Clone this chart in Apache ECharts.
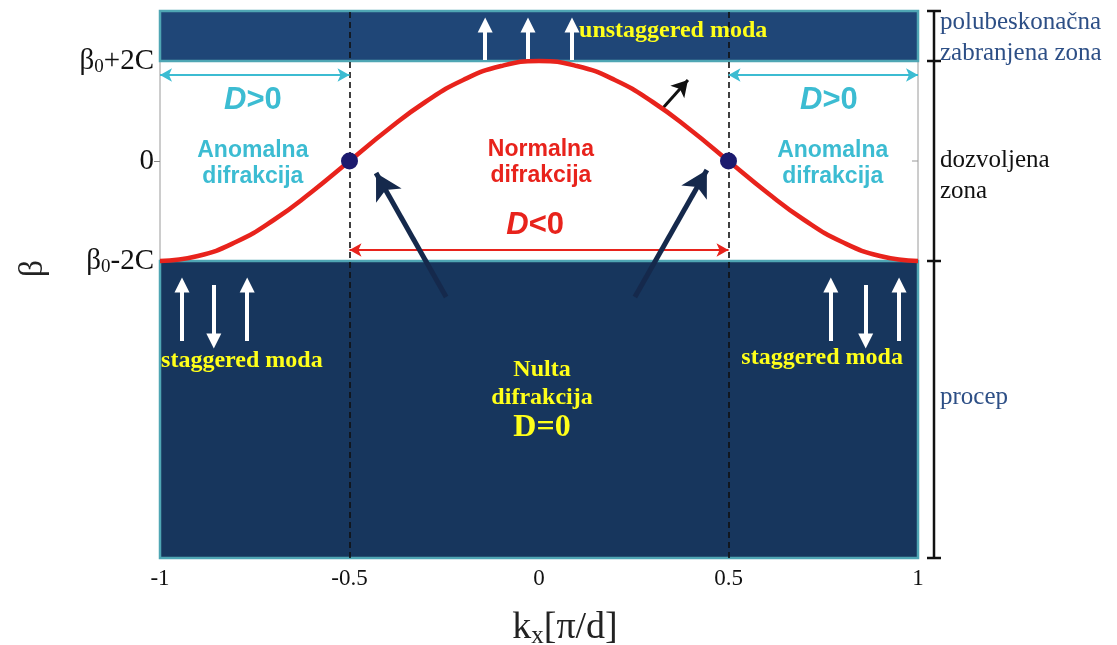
<!DOCTYPE html>
<html>
<head>
<meta charset="utf-8">
<script src="https://cdn.jsdelivr.net/npm/echarts@6/dist/echarts.min.js"></script>
<style>
html,body{margin:0;padding:0;background:#fff;}
#chart{width:1117px;height:645px;}
</style>
</head>
<body>
<div id="chart"></div>
<script>
// ---------- data ----------
const xTicks = [-1, -0.5, 0, 0.5, 1];
const yTickValues = [2, 0, -2];
const yTickLabels = ['{b|β}{s|0}{b|+2C}', '{b|0}', '{b|β}{s|0}{b|-2C}'];
const kx = [-1, -0.9, -0.8, -0.7, -0.6, -0.5, -0.4, -0.3, -0.2, -0.1, 0, 0.1, 0.2, 0.3, 0.4, 0.5, 0.6, 0.7, 0.8, 0.9, 1];
const beta = [-2, -1.9, -1.62, -1.18, -0.62, 0, 0.62, 1.18, 1.62, 1.9, 2, 1.9, 1.62, 1.18, 0.62, 0, -0.62, -1.18, -1.62, -1.9, -2];
const bandTop = [2, 3];          // polubeskonačna zabranjena zona
const bandBottom = [-7.94, -2];  // procep
const zeroPoints = [[-0.5, 0], [0.5, 0]];
const boundaryKx = [-0.5, 0.5];

// ---------- annotations ----------
const whiteArrowsUp = [
  [[-0.142, 2.02], [-0.142, 2.72]], [[-0.029, 2.02], [-0.029, 2.72]], [[0.087, 2.02], [0.087, 2.72]],
  [[-0.942, -3.6], [-0.942, -2.48]], [[-0.770, -3.6], [-0.770, -2.48]],
  [[0.770, -3.6], [0.770, -2.48]], [[0.950, -3.6], [0.950, -2.48]]
];
const whiteArrowsDown = [
  [[-0.858, -2.48], [-0.858, -3.6]], [[0.862, -2.48], [0.862, -3.6]]
];
const navyArrows = [
  [[-0.245, -2.72], [-0.43, -0.24]],
  [[0.253, -2.72], [0.443, -0.18]]
];
const blackArrow = [[[0.327, 1.06], [0.393, 1.62]]];
const cyanArrows = [[[-1, 1.72], [-0.5, 1.72]], [[0.5, 1.72], [1, 1.72]]];
const redArrow = [[[-0.5, -1.78], [0.5, -1.78]]];

const texts = [
  {t: '{i|D}{n|>0}', p: [-0.755, 1.22], s: 'cyanBig'},
  {t: '{i|D}{n|>0}', p: [0.765, 1.22], s: 'cyanBig'},
  {t: 'Anomalna\ndifrakcija', p: [-0.755, -0.06], s: 'cyan'},
  {t: 'Anomalna\ndifrakcija', p: [0.775, -0.06], s: 'cyan'},
  {t: 'Normalna\ndifrakcija', p: [0.005, -0.04], s: 'red'},
  {t: '{i|D}{n|<0}', p: [-0.01, -1.28], s: 'redBig'},
  {t: 'unstaggered moda', p: [0.354, 2.6], s: 'yellow'},
  {t: 'staggered moda', p: [-0.784, -4.0], s: 'yellow'},
  {t: 'staggered moda', p: [0.747, -3.94], s: 'yellow'},
  {t: 'Nulta\ndifrakcija', p: [0.008, -4.46], s: 'yellow'},
  {t: 'D=0', p: [0.008, -5.34], s: 'yellowBig'}
];

// ---------- styles ----------
const SERIF = '"Liberation Serif","Times New Roman",serif';
const SANS = '"Liberation Sans",Arial,sans-serif';
const textStyles = {
  cyanBig: {color: '#3cbcd2', fontFamily: SANS, fontWeight: 'bold', fontSize: 31,
            rich: {i: {color: '#3cbcd2', fontFamily: SANS, fontWeight: 'bold', fontStyle: 'italic', fontSize: 31},
                   n: {color: '#3cbcd2', fontFamily: SANS, fontWeight: 'bold', fontSize: 31}}},
  redBig: {color: '#e8231c', fontFamily: SANS, fontWeight: 'bold', fontSize: 31,
           rich: {i: {color: '#e8231c', fontFamily: SANS, fontWeight: 'bold', fontStyle: 'italic', fontSize: 31},
                  n: {color: '#e8231c', fontFamily: SANS, fontWeight: 'bold', fontSize: 31}}},
  cyan: {color: '#3cbcd2', fontFamily: SANS, fontWeight: 'bold', fontSize: 23, lineHeight: 26},
  red: {color: '#e8231c', fontFamily: SANS, fontWeight: 'bold', fontSize: 23, lineHeight: 26},
  yellow: {color: '#ffff1a', fontFamily: SERIF, fontWeight: 'bold', fontSize: 24, lineHeight: 28},
  yellowBig: {color: '#ffff1a', fontFamily: SERIF, fontWeight: 'bold', fontSize: 32}
};

function arrowData(list) {
  return list.map(a => [{coord: a[0]}, {coord: a[1]}]);
}

const chart = echarts.init(document.getElementById('chart'), null, {renderer: 'canvas'});

const option = {
  animation: false,
  backgroundColor: '#ffffff',
  grid: {left: 160, right: 199, top: 11, bottom: 87, containLabel: false, outerBoundsMode: 'none',
         show: true, borderColor: '#9a9a9a', borderWidth: 1, backgroundColor: '#ffffff'},
  xAxis: {
    type: 'value', min: -1, max: 1, interval: 0.5,
    splitLine: {show: false}, axisTick: {show: false},
    axisLine: {show: false, onZero: false},
    axisLabel: {show: true, fontFamily: SERIF, fontSize: 23, color: '#111', margin: 9,
                customValues: xTicks, formatter: v => String(v)},
    name: '{k|k}{x|x}{k|[π/d]}', nameLocation: 'middle', nameGap: 50,
    nameTextStyle: {padding: [0, 0, 0, 52],
      rich: {k: {fontFamily: SERIF, fontSize: 38, color: '#222'},
             x: {fontFamily: SERIF, fontSize: 25, color: '#222', verticalAlign: 'bottom', padding: [16, 0, 0, 0]}}}
  },
  yAxis: {
    type: 'value', min: bandBottom[0], max: bandTop[1],
    splitLine: {show: false},
    axisLine: {show: false, onZero: false},
    axisTick: {show: true, customValues: [0], length: 6, lineStyle: {color: '#888', width: 1}},
    axisLabel: {show: true, margin: 6, customValues: yTickValues,
      formatter: v => yTickLabels[yTickValues.indexOf(v)] || '',
      rich: {b: {fontFamily: SERIF, fontSize: 29, color: '#111'},
             s: {fontFamily: SERIF, fontSize: 19, color: '#111', verticalAlign: 'bottom', padding: [12, 0, 0, 0]}}},
    name: 'β', nameLocation: 'middle', nameGap: 110, nameRotate: 90,
    nameTextStyle: {fontFamily: SERIF, fontSize: 34, color: '#222', padding: [0, 0, 0, 32]}
  },
  series: [
    { // bands
      type: 'line', data: [], z: 1, silent: true,
      markArea: {
        silent: true,
        data: [
          [{coord: [-1, bandTop[0]], itemStyle: {color: '#1f4677', borderColor: '#4fa6b4', borderWidth: 2.5, opacity: 1}},
           {coord: [1, bandTop[1]]}],
          [{coord: [-1, bandBottom[0]], itemStyle: {color: '#17365d', borderColor: '#4fa6b4', borderWidth: 2.5, opacity: 1}},
           {coord: [1, bandBottom[1]]}]
        ]
      }
    },
    { // dashed boundaries
      type: 'line', data: [], z: 3, silent: true,
      markLine: {silent: true, symbol: 'none', label: {show: false},
        lineStyle: {color: '#111', width: 1.6, type: [6, 4]},
        data: boundaryKx.map(v => ({xAxis: v}))}
    },
    { // curve
      type: 'line', z: 5, smooth: 0.5, showSymbol: false, silent: true,
      data: kx.map((x, i) => [x, beta[i]]),
      lineStyle: {color: '#e8231c', width: 4.5}
    },
    { // dots
      type: 'scatter', z: 6, silent: true, symbolSize: 17,
      data: zeroPoints, itemStyle: {color: '#1c1a6e', opacity: 1}
    },
    { // cyan double arrows
      type: 'line', data: [], z: 4, silent: true,
      markLine: {silent: true, symbol: ['arrow', 'arrow'], symbolSize: [10, 12], label: {show: false},
        lineStyle: {color: '#3cbcd2', width: 2, type: 'solid', opacity: 1}, data: arrowData(cyanArrows)}
    },
    { // red double arrow
      type: 'line', data: [], z: 4, silent: true,
      markLine: {silent: true, symbol: ['arrow', 'arrow'], symbolSize: [10, 12], label: {show: false},
        lineStyle: {color: '#e8231c', width: 2, type: 'solid', opacity: 1}, data: arrowData(redArrow)}
    },
    { // white arrows up
      type: 'line', data: [], z: 4, silent: true,
      markLine: {silent: true, symbol: ['none', 'triangle'], symbolSize: [15, 15], label: {show: false},
        lineStyle: {color: '#ffffff', width: 4, type: 'solid', opacity: 1}, data: arrowData(whiteArrowsUp)}
    },
    { // white arrows down
      type: 'line', data: [], z: 4, silent: true,
      markLine: {silent: true, symbol: ['none', 'triangle'], symbolSize: [15, 15], label: {show: false},
        lineStyle: {color: '#ffffff', width: 4, type: 'solid', opacity: 1}, data: arrowData(whiteArrowsDown)}
    },
    { // navy arrows
      type: 'line', data: [], z: 7, silent: true,
      markLine: {silent: true, symbol: ['none', 'arrow'], symbolSize: [22, 26], label: {show: false},
        lineStyle: {color: '#15294c', width: 5, type: 'solid', opacity: 1}, data: arrowData(navyArrows)}
    },
    { // black arrow
      type: 'line', data: [], z: 7, silent: true,
      markLine: {silent: true, symbol: ['none', 'arrow'], symbolSize: [14, 16], label: {show: false},
        lineStyle: {color: '#111', width: 3, type: 'solid', opacity: 1}, data: arrowData(blackArrow)}
    },
    { // texts
      type: 'scatter', z: 8, silent: true, symbol: 'rect', symbolSize: 0,
      itemStyle: {color: 'rgba(0,0,0,0)', opacity: 1},
      data: texts.map(d => ({
        value: d.p,
        label: Object.assign({show: true, position: 'inside', formatter: d.t, align: 'center', verticalAlign: 'middle', opacity: 1}, textStyles[d.s])
      }))
    }
  ]
};
chart.setOption(option);

// right-side zone bracket
const bracketLevels = [bandTop[1], bandTop[0], bandBottom[1], bandBottom[0]];
const px = bracketLevels.map(v => chart.convertToPixel({gridIndex: 0}, [1, v]));
const bx = px[0][0] + 16;
const g = [];
g.push({type: 'line', shape: {x1: bx, y1: px[0][1], x2: bx, y2: px[3][1]}, style: {stroke: '#111', lineWidth: 2.5}});
px.forEach(p => g.push({type: 'line', shape: {x1: bx - 7, y1: p[1], x2: bx + 7, y2: p[1]}, style: {stroke: '#111', lineWidth: 2.5}}));
const zeroPx = chart.convertToPixel({gridIndex: 0}, [1, 0]);
g.push({type: 'line', shape: {x1: zeroPx[0] - 6, y1: zeroPx[1], x2: zeroPx[0], y2: zeroPx[1]}, style: {stroke: '#999', lineWidth: 1}});
const sideLabels = [
  {t: 'polubeskonačna\nzabranjena zona', y: (px[0][1] + px[1][1]) / 2 + 2, c: '#2d4f86'},
  {t: 'dozvoljena\nzona', y: (px[1][1] + px[2][1]) / 2 + 15, c: '#111'},
  {t: 'procep', y: (px[2][1] + px[3][1]) / 2 - 12, c: '#2d4f86'}
];
sideLabels.forEach(s => g.push({type: 'text', x: bx + 6, y: s.y,
  style: {text: s.t, fill: s.c, font: '25px ' + SERIF, lineHeight: 31, verticalAlign: 'middle', align: 'left'}}));
chart.setOption({graphic: g});
</script>
</body>
</html>
